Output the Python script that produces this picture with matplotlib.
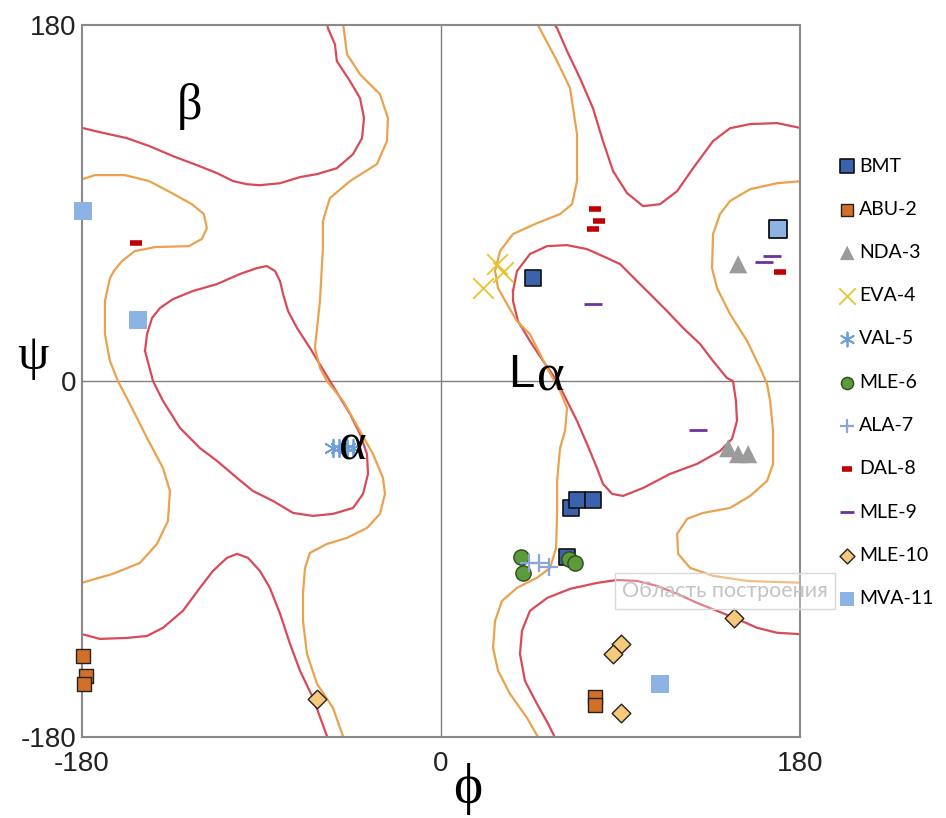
import matplotlib.pyplot as plt

plt.rcParams['axes.unicode_minus'] = False

# contour lines (phi, psi)
red_beta_phi = [-180, -171, -157.5, -146, -134.4, -121, -112.3, -104.3, -97.3, -90.8, -80.7,
                -70.7, -62.2, -52.2, -44.1, -39.6, -38.6, -40.6, -45.6, -52.2, -53.2, -56.7, -57]
red_beta_psi = [128, 125.8, 122.8, 118.7, 113.7, 108.6, 105.1, 101.1, 99.5, 99, 100,
                103.1, 104.6, 107.6, 114.7, 122.8, 132.9, 143, 151.6, 161.7, 170.3, 178.4, 180]
red_beta2_phi = [-180, -171, -157.5, -147.4, -139.4, -129.4, -120.9, -114.3, -107.3, -102.3,
                 -96.8, -90.8, -85.8, -80.7, -75.7, -70.7, -64.2, -57]
red_beta2_psi = [-128, -130.4, -129.9, -128.9, -124.8, -116.2, -104.6, -96, -89.4, -87.4,
                 -89.4, -96, -104.6, -117.7, -132.9, -146.5, -160.2, -180]
red_alpha_phi = [-148.4, -147.4, -144.9, -140.9, -134.4, -124.4, -112.3, -100.8, -92.3, -87.3,
                 -83.2, -80.7, -79.2, -76.7, -72.2, -65.7, -55.7, -45.6, -40.6, -37.1, -36.6,
                 -39.1, -44.1, -54.2, -64.2, -74.2, -84.3, -94.3, -102.3, -112.3, -120.9, -130.9,
                 -139.4, -144.4, -148.4]
red_alpha_psi = [15.2, 23.7, 31.8, 36.9, 41.4, 45.5, 49, 54.1, 57.1, 58.1,
                 55.6, 50.5, 44, 35.4, 26.8, 16.7, 0, -16.7, -26.8, -36.9, -47,
                 -57.1, -64.2, -67.2, -68.2, -66.7, -60.6, -55.6, -49, -40.4, -33.9, -23.7,
                 -10.1, 0, 15.2]
red_la_phi = [36.1, 38.1, 44.6, 53.2, 63.2, 73.2, 83.2, 89.8, 98.3, 104.8, 113.3, 121.4, 129.9,
              136.4, 143.4, 146.4, 147.9, 148.4, 145.9, 139.9, 128.4, 114.8, 101.3, 91.3, 85.8,
              81.2, 78.2, 73.2, 68.2, 63.2, 58.2, 51.2, 44.6, 38.6, 36.1, 36.1]
red_la_psi = [45.5, 55.6, 64.2, 68.2, 68.7, 66.7, 62.2, 59.1, 50.5, 44, 35.4, 26.8, 18.7,
              10.1, 1.5, 0, -10.1, -20.2, -29.3, -35.4, -41.9, -47, -54.1, -58.1, -57.1,
              -52, -44, -31.8, -20.2, -10.1, 0, 10.1, 20.2, 30.3, 40.4, 45.5]
red_top_phi = [57, 58.2, 63.2, 69.7, 76.2, 81.2, 86.3, 93.3, 101.3, 109.8, 118.4, 126.4, 136.4,
               144.9, 155, 168.5, 180]
red_top_psi = [180, 178.4, 166.8, 153.1, 137.9, 121.3, 106.1, 95, 88.4, 89.4, 96, 107.6, 121.3,
               127.8, 129.9, 130.4, 128]
red_bot_phi = [180, 168.5, 158.5, 148.4, 138.4, 128.4, 118.4, 108.3, 98.3, 88.3, 78.2, 64.7,
               53.2, 44.6, 40.6, 39.6, 42.1, 48.1, 53.7, 57]
red_bot_psi = [-128, -127.3, -124.8, -120.3, -116.2, -112.2, -107.6, -103.6, -101.1, -100.6,
               -102.1, -105.1, -109.7, -116.2, -126.3, -138, -151.6, -163.2, -173.3, -180]

org_mid_phi = [-49, -47.1, -40.6, -30.6, -26.6, -27.1, -32.1, -45.6, -55.7, -59.2, -59.2,
               -60.7, -63.2, -60.7, -57.2, -49.1, -40.6, -34.1, -29.1, -28.1, -30.6, -37.1,
               -47.1, -57.2, -65.7, -68.2, -69.2, -69.2, -67.2, -62.2, -54.2, -49]
org_mid_psi = [180, 165.2, 155.1, 145, 132.9, 121.3, 109.7, 101.1, 92.5, 80.8, 67.2,
               40.4, 16.7, 6.6, 0, -10.1, -25.3, -36.9, -49, -57.1, -67.2, -74.3,
               -79.3, -82.4, -86.9, -94.5, -107.6, -121.3, -137.9, -153.1, -165.2, -180]
org_left_phi = [-180, -173.5, -158.5, -146.4, -134.9, -124.9, -118.9, -117.4, -119.9, -126.4,
                -143.4, -153.5, -160, -164, -166, -168.5, -168.5, -166, -162, -156, -147.4,
                -139.4, -135.9, -136.9, -142.4, -151, -164.5, -180]
org_left_psi = [102, 104.1, 104.1, 101.1, 95, 89.4, 84.4, 77.3, 71.8, 68.2,
                67.7, 65.7, 60.6, 55.6, 52, 40.4, 23.7, 10.1, 0, -11.6, -28.8,
                -44, -55.6, -70.7, -82.4, -92, -97.5, -102]
org_la_phi = [48.6, 58.2, 64.7, 68.2, 68.2, 65.7, 59.7, 48.1, 36.1, 29.6, 27.1, 28.6, 33.1,
              38.1, 44.6, 53.2, 59.7, 63.2, 62.2, 59.7, 58.2, 58.2, 57.7, 54.7, 48.1, 38.1,
              30.6, 27.1, 26.1, 28.6, 34.6, 43.1, 48.6]
org_la_psi = [180, 161.7, 148.1, 124.8, 101, 89.4, 84.4, 79.8, 74.3, 65.7, 55.6, 47, 38.9,
              30.3, 23.7, 6.6, -5.1, -13.6, -25.3, -33.9, -50.5, -67.2, -84.4, -94.5, -99.5,
              -104.6, -111.2, -121.3, -134.9, -146.5, -158.2, -170.3, -180]
org_right_phi = [180, 168.5, 155, 144.9, 139.9, 136.4, 135.9, 138.4, 144.9, 153.5, 160, 163.5,
                 165, 166.5, 166.5, 163.5, 155, 144.9, 131.4, 123.4, 118.4, 118.9, 124.9,
                 136.4, 153.5, 180]
org_right_psi = [101, 100, 97, 91, 84.4, 74.3, 57.1, 47, 33.9, 20.2, 6.6, -1.5,
                 -10.1, -25.3, -41.9, -50.5, -58.1, -64.2, -66.7, -69.7, -77.3, -87.4, -94.5,
                 -98.5, -101.1, -102]

# residues
bmt_phi = [46, 65, 68, 76, 63]
bmt_psi = [52, -64, -60, -60, -89]
abu_phi = [-179.5, -178, -179, 77, 77]
abu_psi = [-139, -149, -153, -160, -164]
nda_phi = [149, 144, 149, 154]
nda_psi = [59, -34, -37, -37]
eva_phi = [28, 31, 21]
eva_psi = [59, 55, 47]
val_phi = [-54, -51, -47, -44]
val_psi = [-34, -34, -34, -34]
mle6_phi = [40, 41, 64, 67]
mle6_psi = [-89, -97, -90, -92]
ala_phi = [44, 49, 54]
ala_psi = [-92, -92, -94]
dal_phi = [-153, 77, 79, 76, 170]
dal_psi = [70, 87, 81, 77, 55]
mle9_phi = [76, 166, 162, 129]
mle9_psi = [39, 63, 60, -25]
mle10_phi = [-62, 147, 90, 86, 90]
mle10_psi = [-161, -120, -133, -138, -168]
mva_phi = [-179.5, -152, 110, 169]
mva_psi = [86, 31, -153, 77]
mva_edge = ['none', 'none', 'none', 'black']

W, H = 946, 818
fig = plt.figure(figsize=(W / 100, H / 100), dpi=100)
ax = fig.add_axes([82 / W, (H - 737) / H, 718 / W, 712 / H])

red = '#d94a58'
orange = '#eba24f'
for xs, ys in [(red_beta_phi, red_beta_psi), (red_beta2_phi, red_beta2_psi),
               (red_alpha_phi, red_alpha_psi), (red_la_phi, red_la_psi),
               (red_top_phi, red_top_psi), (red_bot_phi, red_bot_psi)]:
    ax.plot(xs, ys, color=red, lw=1.6, zorder=2, solid_joinstyle='round')
for xs, ys in [(org_mid_phi, org_mid_psi), (org_left_phi, org_left_psi),
               (org_la_phi, org_la_psi), (org_right_phi, org_right_psi)]:
    ax.plot(xs, ys, color=orange, lw=1.6, zorder=2, solid_joinstyle='round')

ax.axhline(0, color='#808080', lw=1, zorder=1)
ax.axvline(0, color='#808080', lw=1, zorder=1)

kw = dict(zorder=4, clip_on=False)
ax.scatter(bmt_phi, bmt_psi, marker='s', s=140, c='#3b63ad', edgecolors='#111111', lw=1.2,
           label='BMT', **kw)
ax.scatter(abu_phi, abu_psi, marker='s', s=110, c='#d46f28', edgecolors='#222222', lw=1,
           label='ABU-2', **kw)
ax.scatter(nda_phi, nda_psi, marker='^', s=170, c='#9b9b9b', edgecolors='none',
           label='NDA-3', **kw)
ax.scatter(eva_phi, eva_psi, marker='x', s=220, c='#e8c42c', lw=1.3, label='EVA-4', **kw)
ax.scatter(val_phi, val_psi, marker=(6, 2, 0), s=160, c='#6f9fd8', lw=1.3, label='VAL-5',
           **kw)
ax.scatter(mle6_phi, mle6_psi, marker='o', s=120, c='#5b9b3c', edgecolors='#2e4a1e', lw=1,
           label='MLE-6', **kw)
ax.scatter(ala_phi, ala_psi, marker='+', s=150, c='#8aa6d8', lw=1.6, label='ALA-7', **kw)
ax.scatter(dal_phi, dal_psi, marker='_', s=70, c='#c00000', lw=4, label='DAL-8', **kw)
ax.scatter(mle9_phi, mle9_psi, marker='_', s=160, c='#7030a0', lw=2, label='MLE-9', **kw)
ax.scatter(mle10_phi, mle10_psi, marker='D', s=90, c='#f7c97c', edgecolors='#222222', lw=1,
           label='MLE-10', **kw)
ax.scatter(mva_phi, mva_psi, marker='s', s=170, c='#8db3e2', edgecolors=mva_edge, lw=1.2,
           label='MVA-11', **kw)

ax.set_xlim(-180, 180)
ax.set_ylim(-180, 180)
ax.set_xticks([-180, 0, 180])
ax.set_yticks([-180, 0, 180])
ax.tick_params(length=0, labelsize=20, colors='#222222', pad=4)
ax.tick_params(axis='x', pad=10)
for lab in ax.get_xticklabels() + ax.get_yticklabels():
    lab.set_family('Liberation Sans')
for sp in ax.spines.values():
    sp.set_color('#8a8a8a')
    sp.set_linewidth(1.5)

serif = ['Liberation Serif', 'DejaVu Serif']
ax.text(-126, 139, 'β', fontsize=36, family=serif, ha='center', va='center')
ax.text(-44, -33, 'α', fontsize=38, family=serif, ha='center', va='center', zorder=5)
ax.text(40, 3, 'L', fontsize=34, family='Liberation Sans', ha='center', va='center')
ax.text(55, 2, 'α', fontsize=38, family=serif, ha='center', va='center')
fig.text(33 / W, 1 - 357 / H, 'ψ', fontsize=36, family=serif, ha='center', va='center')
fig.text(468 / W, 1 - 789 / H, 'ϕ', fontsize=40, family=serif, ha='center', va='center')

leg = ax.legend(loc='upper left', bbox_to_anchor=(819 / W, 1 - 140 / H),
                bbox_transform=fig.transFigure, frameon=False, markerscale=0.8,
                labelspacing=1.35, handletextpad=0.05, handlelength=1.1,
                prop={'family': 'Lato', 'size': 14})

fig.text(725 / W, 1 - 591 / H, 'Область построения', fontsize=15.5, color='#c4c4c4',
         family='Lato', ha='center', va='center',
         bbox=dict(boxstyle='square,pad=0.35', fc=(1, 1, 1, 0.3), ec='#d8d8d8', lw=1))

fig.savefig('out.png', dpi=100)
